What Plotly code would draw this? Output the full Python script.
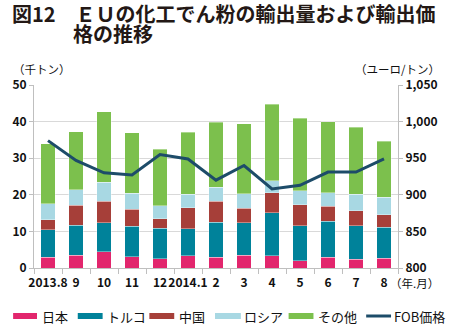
import plotly.graph_objects as go

months = ["2013.8", "9", "10", "11", "12", "2014.1", "2", "3", "4", "5", "6", "7", "8"]
japan = [3.0, 3.5, 4.5, 3.1, 2.5, 3.4, 3.0, 3.5, 3.3, 2.0, 3.0, 2.4, 2.7]
turkey = [7.5, 8.2, 7.8, 8.3, 8.4, 7.3, 9.5, 8.8, 11.8, 9.6, 9.8, 9.1, 8.4]
china = [2.7, 5.5, 5.9, 4.6, 2.6, 5.8, 5.7, 4.0, 5.4, 5.7, 4.1, 4.2, 3.4]
russia = [4.3, 4.2, 5.2, 4.4, 3.5, 3.6, 3.8, 4.0, 3.3, 3.8, 3.6, 4.5, 4.8]
other = [16.4, 15.8, 19.3, 16.6, 15.5, 17.0, 17.8, 19.1, 21.0, 19.8, 19.5, 18.3, 15.4]
fob = [974, 947, 930, 927, 955, 949, 920, 940, 908, 913, 931, 931, 949]

series = [("日本", japan, "#E2266D"), ("トルコ", turkey, "#00829A"),
          ("中国", china, "#A63F39"), ("ロシア", russia, "#A8D8E3"),
          ("その他", other, "#7CC04D")]
line_color = "#1D4C69"

W, H = 450, 326
L, R, T, B = 34, 400, 85, 268

def px(x):
    return (x - L) / (R - L)

def py(y):
    return (B - y) / (B - T)

fig = go.Figure()
for name, vals, col in series:
    fig.add_trace(go.Bar(x=months, y=vals, name=name, marker_color=col,
                         marker_line_color="rgba(255,255,255,0.6)", marker_line_width=0.6,
                         showlegend=False))
fig.add_trace(go.Scatter(x=months, y=fob, yaxis="y2", mode="lines", name="FOB価格",
                         line=dict(color=line_color, width=3), showlegend=False))

font = "Noto Sans CJK JP"
tickfont = dict(size=12, family=font, color="#111111", weight="bold")
fig.update_layout(
    width=W, height=H,
    margin=dict(l=L, r=W - R, t=T, b=H - B),
    paper_bgcolor="white", plot_bgcolor="white",
    barmode="stack", bargap=0.47,
    font=dict(family=font, size=12, color="#111111"),
    xaxis=dict(type="category", tickson="boundaries", ticks="outside", ticklen=5,
               tickcolor="#BFBFBF", showline=True, linecolor="#BFBFBF", linewidth=1,
               showgrid=False, tickfont=tickfont, tickangle=0, ticklabelstandoff=4),
    yaxis=dict(range=[0, 50], dtick=10, showgrid=True, gridcolor="#D9D9D9",
               showline=True, linecolor="#BFBFBF", ticks="outside", ticklen=4,
               tickcolor="#BFBFBF", zeroline=False, tickfont=tickfont),
    yaxis2=dict(range=[800, 1050], dtick=50, overlaying="y", side="right",
                showgrid=False, showline=True, linecolor="#BFBFBF", ticks="outside",
                ticklen=4, tickcolor="#BFBFBF", zeroline=False, tickformat=",d",
                tickfont=tickfont),
)

ann = []

def add_text(text, x, y, xanchor, size, color="#111111"):
    ann.append(dict(text=text, x=px(x), y=py(y), xref="paper", yref="paper",
                    xanchor=xanchor, yanchor="middle", showarrow=False,
                    font=dict(size=size, family=font, color=color)))

add_text("<b>図12　ＥＵの化工でん粉の輸出量および輸出価</b>", 10, 13, "left", 20, "#231815")
add_text("<b>格の推移</b>", 71, 34, "left", 20, "#231815")
add_text("（千トン）", 42, 69, "center", 11.5)
add_text("（ユーロ/トン）", 444, 69, "right", 11.5)
add_text("（年.月）", 443, 283, "right", 11.5)

shapes = []
leg = [("日本", "#E2266D", 13, 37, 40), ("トルコ", "#00829A", 78, 103, 105),
       ("中国", "#A63F39", 150, 175, 178), ("ロシア", "#A8D8E3", 216, 242, 243),
       ("その他", "#7CC04D", 290, 315, 318)]
ly = 316
for name, col, x0, x1, tx in leg:
    shapes.append(dict(type="rect", xref="paper", yref="paper", x0=px(x0), x1=px(x1),
                       y0=py(ly + 3), y1=py(ly - 3), fillcolor=col, line=dict(width=0)))
    add_text(name, tx, ly, "left", 13)
shapes.append(dict(type="line", xref="paper", yref="paper", x0=px(368), x1=px(393),
                   y0=py(ly), y1=py(ly), line=dict(color=line_color, width=3)))
add_text("FOB価格", 394, ly, "left", 13)

fig.update_layout(annotations=ann, shapes=shapes)
fig.write_html("out.html")
